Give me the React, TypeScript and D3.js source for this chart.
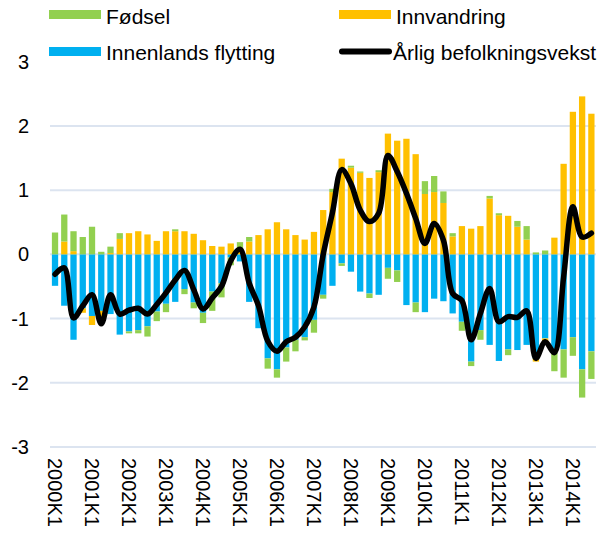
import React from 'react';
import * as d3 from 'd3';

const categories = [
  "2000K1","2000K2","2000K3","2000K4","2001K1","2001K2","2001K3","2001K4",
  "2002K1","2002K2","2002K3","2002K4","2003K1","2003K2","2003K3","2003K4",
  "2004K1","2004K2","2004K3","2004K4","2005K1","2005K2","2005K3","2005K4",
  "2006K1","2006K2","2006K3","2006K4","2007K1","2007K2","2007K3","2007K4",
  "2008K1","2008K2","2008K3","2008K4","2009K1","2009K2","2009K3","2009K4",
  "2010K1","2010K2","2010K3","2010K4","2011K1","2011K2","2011K3","2011K4",
  "2012K1","2012K2","2012K3","2012K4","2013K1","2013K2","2013K3","2013K4",
  "2014K1","2014K2","2014K3"
];

const fodsel = [
  0.34, 0.42, 0.31, 0.27, 0.43, 0.04, 0.10, 0.09,
  -0.03, -0.05, -0.16, -0.15, -0.13, 0.03, -0.08, -0.09,
  -0.16, -0.30, -0.22, -0.12, 0.15, 0.07, 0.00, -0.16,
  -0.13, -0.22, -0.18, -0.05, -0.20, -0.06, 0.05, -0.04,
  0.03, 0.02, -0.07, 0.03, -0.17, -0.18, 0.00, -0.15,
  0.20, 0.25, 0.18, 0.05, -0.14, -0.07, -0.15, 0.04,
  0.03, -0.09, 0.09, 0.21, 0.03, 0.06, -0.34, -0.44,
  -0.29, -0.44, -0.43
];

const innvandring = [
  0.00, 0.20, 0.05, -0.07, -0.14, -0.10, 0.02, 0.24,
  0.33, 0.36, 0.31, 0.21, 0.36, 0.36, 0.36, 0.32,
  0.22, 0.13, 0.12, 0.17, 0.04, 0.20, 0.30, 0.39,
  0.50, 0.39, 0.30, 0.23, 0.35, 0.69, 0.97, 1.49,
  1.35, 1.27, 1.19, 1.28, 1.88, 1.77, 1.80, 1.56,
  0.94, 0.97, 0.80, 0.28, 0.44, 0.40, 0.44, 0.87,
  0.61, 0.60, 0.43, 0.23, -0.05, -0.07, 0.26, 1.41,
  2.22, 2.46, 2.19
];

const innenlands = [
  -0.49, -0.80, -1.33, -0.84, -0.96, -0.88, -0.93, -1.25,
  -1.20, -1.18, -1.12, -0.89, -0.77, -0.74, -0.54, -0.75,
  -0.91, -0.58, -0.45, -0.05, -0.11, -0.74, -1.15, -1.62,
  -1.79, -1.45, -1.33, -1.29, -1.02, -0.63, -0.49, -0.14,
  -0.27, -0.58, -0.61, -0.63, -0.21, -0.25, -0.79, -0.75,
  -0.90, -0.69, -0.73, -0.92, -1.05, -1.67, -1.18, -1.41,
  -1.66, -1.48, -1.49, -1.41, -1.62, -1.31, -1.48, -1.48,
  -1.29, -1.79, -1.51
];

const vekst = [
  -0.31, -0.21, -0.99, -0.80, -0.63, -1.08, -0.63, -0.93,
  -0.87, -0.84, -0.93, -0.78, -0.60, -0.40, -0.25, -0.55,
  -0.85, -0.68, -0.50, -0.10, 0.08, -0.45, -0.80, -1.35,
  -1.51, -1.36, -1.29, -1.13, -0.82, 0.00, 0.65, 1.32,
  1.10, 0.69, 0.51, 0.64, 1.54, 1.29, 0.95, 0.56,
  0.17, 0.48, 0.22, -0.61, -0.72, -1.33, -0.92, -0.53,
  -1.05, -0.97, -0.98, -0.88, -1.62, -1.36, -1.53, -0.35,
  0.74, 0.27, 0.33
];

const yTicks = [-3, -2, -1, 0, 1, 2, 3];
const gridTicks = [-3, -2, -1, 0, 1, 2];
const xTickLabels = [
  "2000K1","2001K1","2002K1","2003K1","2004K1","2005K1","2006K1","2007K1",
  "2008K1","2009K1","2010K1","2011K1","2012K1","2013K1","2014K1"
];

const seriesKeys = ["innenlands", "innvandring", "fodsel"];
const seriesColors: Record<string, string> = {
  innenlands: "#00B0F0",
  innvandring: "#FFC000",
  fodsel: "#92D050",
};

const FONT = "'Liberation Sans', Arial, sans-serif";

export default function App() {
  const W = 614, H = 533;
  const x = d3.scaleBand<string>()
    .domain(categories)
    .range([50.4, 596])
    .paddingInner(0.32)
    .paddingOuter(0.16);
  const y = d3.scaleLinear().domain([-3, 3]).range([447, 61.7]);

  const table = categories.map((c, i) => ({
    cat: c,
    fodsel: fodsel[i],
    innvandring: innvandring[i],
    innenlands: innenlands[i],
  }));
  const stacked = d3.stack<any>()
    .keys(seriesKeys)
    .offset(d3.stackOffsetDiverging)(table);

  const cx = (c: string) => (x(c) as number) + x.bandwidth() / 2;
  const line = d3.line<number>()
    .x((_, i) => cx(categories[i]))
    .y((v) => y(v))
    .curve(d3.curveCatmullRom.alpha(0.5));

  return (
    <div style={{ position: 'absolute', left: 0, top: 0 }}>
      <svg width={W} height={H} style={{ display: 'block', background: '#fff' }} fontFamily={FONT}>
        {gridTicks.map((t) => (
          <line key={t} x1={50} x2={596} y1={y(t)} y2={y(t)} stroke="#DCE4F0" strokeWidth={2} />
        ))}
        {stacked.map((s) => (
          <g key={s.key} fill={seriesColors[s.key]}>
            {s.map((d, i) => {
              const y0 = y(d[0]), y1 = y(d[1]);
              const h = Math.abs(y0 - y1);
              if (h < 0.01) return null;
              return (
                <rect key={i} x={x(categories[i])} width={x.bandwidth()}
                  y={Math.min(y0, y1)} height={h} />
              );
            })}
          </g>
        ))}
        <path d={line(vekst) || ''} fill="none" stroke="#000" strokeWidth={5.5}
          strokeLinejoin="round" strokeLinecap="round" />
        {yTicks.map((t) => (
          <text key={t} x={29} y={y(t)} dy="0.35em" textAnchor="end" fontSize={20} fill="#000">
            {t}
          </text>
        ))}
        {xTickLabels.map((l) => (
          <text key={l} transform={`translate(${cx(l)},458) rotate(90)`} dy="0.35em"
            fontSize={20} fill="#000">
            {l}
          </text>
        ))}
        <g fontSize={21}>
          <rect x={49} y={10} width={52} height={9} fill={seriesColors.fodsel} />
          <text x={106} y={16.5} dy="0.35em">Fødsel</text>
          <rect x={339} y={10} width={52} height={9} fill={seriesColors.innvandring} />
          <text x={396} y={16.5} dy="0.35em">Innvandring</text>
          <rect x={49} y={47} width={52} height={9} fill={seriesColors.innenlands} />
          <text x={106} y={53} dy="0.35em">Innenlands flytting</text>
          <line x1={342} x2={389} y1={51.5} y2={51.5} stroke="#000" strokeWidth={6} strokeLinecap="round" />
          <text x={393} y={53} dy="0.35em">Årlig befolkningsvekst</text>
        </g>
      </svg>
    </div>
  );
}
